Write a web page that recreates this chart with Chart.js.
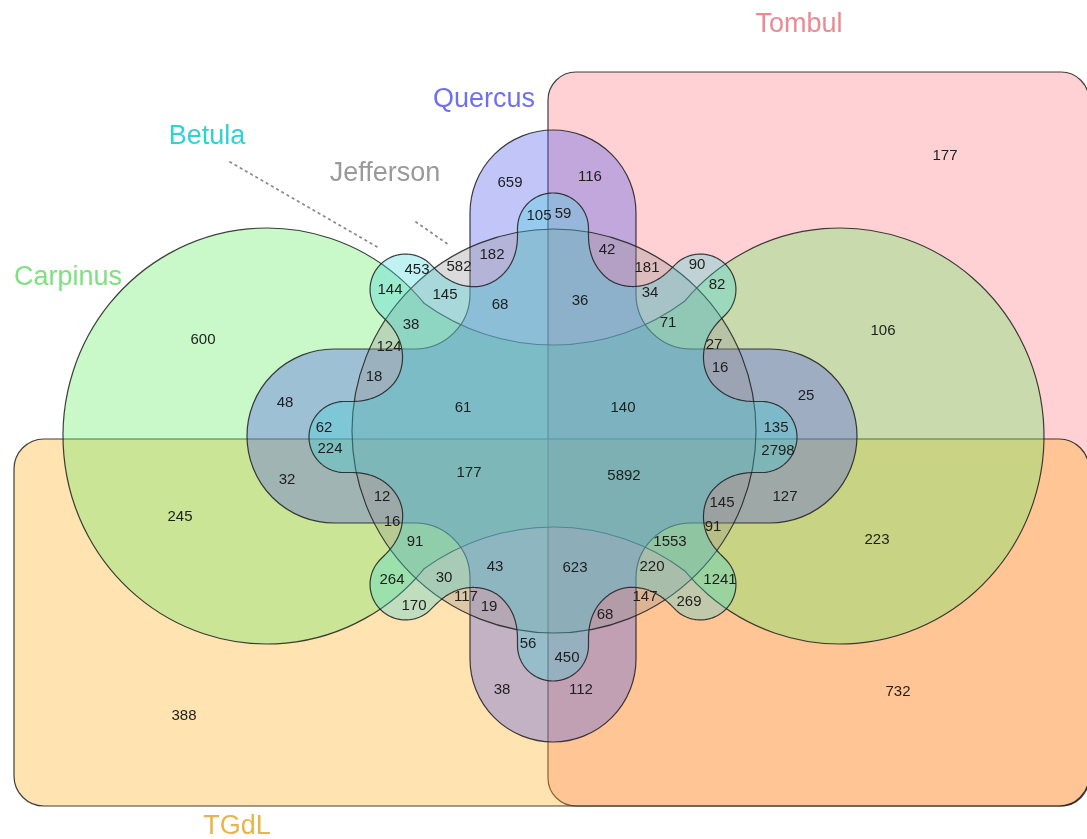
<!DOCTYPE html>
<html><head><meta charset="utf-8">
<script src="https://cdn.jsdelivr.net/npm/chart.js@4/dist/chart.umd.min.js"></script>
<style>html,body{margin:0;padding:0;background:#fff;}canvas{display:block;}</style>
</head><body>
<canvas id="c" width="1087" height="839"></canvas>
<script>
// ---------------- DATA ----------------
const setNames = ['Tombul', 'TGdL', 'Carpinus', 'Quercus', 'Jefferson', 'Betula'];
const regionCounts = [177, 659, 116, 105, 59, 182, 42, 453, 582, 181, 90, 82, 144, 145, 68, 36, 34, 71, 38, 124, 27, 16, 18,
  600, 106, 48, 25, 61, 140, 62, 224, 135, 2798, 177, 5892, 32, 127, 12, 145, 16, 91, 91, 1553, 245, 223,
  43, 623, 220, 264, 30, 1241, 117, 19, 147, 68, 170, 269, 56, 450, 38, 112, 388, 732];

// ---------------- LAYOUT (label anchors, in diagram units) ----------------
const anchorX = [945, 510, 590, 539, 563, 492, 607, 417, 459, 647, 697, 717, 390, 445, 500, 580, 650, 668, 411, 389, 714, 720, 374,
  203, 883, 285, 806, 463, 623, 324, 330, 776, 778, 469, 624, 287, 785, 382, 722, 392, 415, 713, 670, 180, 877,
  495, 575, 652, 392, 444, 720, 466, 489, 645, 605, 414, 689, 528, 567, 502, 581, 184, 898];
const anchorY = [156, 183, 177, 216, 214, 255, 250, 270, 267, 268, 265, 285, 290, 295, 305, 301, 293, 323, 325, 347, 345, 368, 377,
  340, 331, 403, 396, 408, 408, 428, 449, 428, 451, 473, 476, 480, 497, 497, 503, 522, 542, 527, 542, 517, 540,
  567, 568, 567, 580, 578, 580, 597, 607, 597, 615, 606, 602, 644, 658, 690, 690, 716, 692];
const titleX = [799, 237, 68, 484, 385, 207];
const titleY = [25, 827, 278, 100, 174, 137];
const titleColors = ['#eb8a92', '#e9b548', '#7fe07f', '#7070ee', '#9a9a9a', '#30d2d2'];
const fillColors = ['rgba(255,124,132,0.35)', 'rgba(255,175,30,0.35)', 'rgba(100,235,100,0.35)',
  'rgba(80,90,235,0.35)', 'rgba(150,145,145,0.33)', 'rgba(60,212,218,0.32)'];

// geometry of the six set outlines
const RECT_TOMBUL = {x0: 548, y0: 72, x1: 1089, y1: 806, r: 28};
const RECT_TGDL = {x0: 14, y0: 439, x1: 1089, y1: 806, r: 30};
const CARP = {lx: 267, rx: 840, cy: 436, ex: 204, ey: 208, tcx: 553, tcy: 125, tr: 220, bcy: 747, br: 220};
const QUER = {cx: 553, cy: 436, vw: 83, hh: 87, top: 130, bottom: 742, left: 247, right: 857, fil: 55};
const JEFF = {cx: 554, cy: 431, r: 202};
const BETU = {cx: 553, cy: 437, core: 163, len: 208.5, w: 35.5, k: 42};
const leaders = [[230, 162, 379, 248], [416, 222, 449, 245]];

// ---------------- helpers ----------------
function capsuleSDF(px, py, ax, ay, bx, by, r) {
  const pax = px - ax, pay = py - ay, bax = bx - ax, bay = by - ay;
  let h = (pax * bax + pay * bay) / (bax * bax + bay * bay);
  h = Math.max(0, Math.min(1, h));
  return Math.hypot(pax - bax * h, pay - bay * h) - r;
}
function smin(a, b, k) {
  const h = Math.max(k - Math.abs(a - b), 0) / k;
  return Math.min(a, b) - h * h * k * 0.25;
}
function betulaSDF(x, y) {
  const g = BETU;
  let d = Math.hypot(x - g.cx, y - g.cy) - g.core;
  for (let i = 0; i < 8; i++) {
    const a = i * Math.PI / 4;
    d = smin(d, capsuleSDF(x, y, g.cx, g.cy, g.cx + g.len * Math.cos(a), g.cy + g.len * Math.sin(a), g.w), g.k);
  }
  return d;
}
function betulaOutline() {
  const pts = [], N = 2400, g = BETU;
  for (let i = 0; i < N; i++) {
    const t = 2 * Math.PI * i / N, c = Math.cos(t), s = Math.sin(t);
    let r = 290;
    while (r > 0 && betulaSDF(g.cx + r * c, g.cy + r * s) > 0) r -= 1;
    let lo = r, hi = r + 1;
    for (let j = 0; j < 20; j++) {
      const m = (lo + hi) / 2;
      if (betulaSDF(g.cx + m * c, g.cy + m * s) > 0) hi = m; else lo = m;
    }
    pts.push([g.cx + lo * c, g.cy + lo * s]);
  }
  return pts;
}
const betulaPts = betulaOutline();

function ellVal(x, y, cx) { return ((x - cx) / CARP.ex) ** 2 + ((y - CARP.cy) / CARP.ey) ** 2; }
function findPhi(ccx, ccy, rr, from, to, ecx) {
  const N = 4000;
  for (let i = 0; i <= N; i++) {
    const p = from + (to - from) * i / N;
    if (ellVal(ccx + rr * Math.cos(p), ccy + rr * Math.sin(p), ecx) <= 1) return p;
  }
  return to;
}
function ellParam(x, y, ecx) { return Math.atan2((y - CARP.cy) / CARP.ey, (x - ecx) / CARP.ex); }

// ---------------- plugin ----------------
const vennPlugin = {
  id: 'venn',
  beforeDatasetsDraw(chart) {
    const ctx = chart.ctx, xs = chart.scales.x, ys = chart.scales.y;
    const X = v => xs.getPixelForValue(v), Y = v => ys.getPixelForValue(v);
    const S = Math.abs(X(1) - X(0)), T = Math.abs(Y(1) - Y(0));
    const stroke = () => { ctx.lineWidth = 1.2; ctx.strokeStyle = 'rgba(30,30,30,0.85)'; ctx.stroke(); };
    function rrect(o) {
      const r = o.r;
      ctx.beginPath();
      ctx.moveTo(X(o.x0 + r), Y(o.y0));
      ctx.lineTo(X(o.x1 - r), Y(o.y0));
      ctx.arc(X(o.x1 - r), Y(o.y0 + r), r * S, -Math.PI / 2, 0);
      ctx.lineTo(X(o.x1), Y(o.y1 - r));
      ctx.arc(X(o.x1 - r), Y(o.y1 - r), r * S, 0, Math.PI / 2);
      ctx.lineTo(X(o.x0 + r), Y(o.y1));
      ctx.arc(X(o.x0 + r), Y(o.y1 - r), r * S, Math.PI / 2, Math.PI);
      ctx.lineTo(X(o.x0), Y(o.y0 + r));
      ctx.arc(X(o.x0 + r), Y(o.y0 + r), r * S, Math.PI, 1.5 * Math.PI);
      ctx.closePath();
    }
    ctx.save();
    // Tombul
    rrect(RECT_TOMBUL); ctx.fillStyle = fillColors[0]; ctx.fill(); stroke();
    // TGdL
    rrect(RECT_TGDL); ctx.fillStyle = fillColors[1]; ctx.fill(); stroke();
    // Carpinus (dumbbell)
    {
      const c = CARP;
      const p1 = findPhi(c.tcx, c.tcy, c.tr, Math.PI / 2, Math.PI, c.lx);
      const p2 = findPhi(c.tcx, c.tcy, c.tr, Math.PI / 2, 0, c.rx);
      const p3 = findPhi(c.tcx, c.bcy, c.br, -Math.PI / 2, 0, c.rx);
      const p4 = findPhi(c.tcx, c.bcy, c.br, -Math.PI / 2, -Math.PI, c.lx);
      const P = (cy, r, p) => [c.tcx + r * Math.cos(p), cy + r * Math.sin(p)];
      const A = P(c.tcy, c.tr, p1), B = P(c.tcy, c.tr, p2), Cc = P(c.bcy, c.br, p3), D = P(c.bcy, c.br, p4);
      ctx.beginPath();
      ctx.moveTo(X(A[0]), Y(A[1]));
      ctx.arc(X(c.tcx), Y(c.tcy), c.tr * S, p1, p2, true);
      ctx.ellipse(X(c.rx), Y(c.cy), c.ex * S, c.ey * T, 0, ellParam(B[0], B[1], c.rx), ellParam(Cc[0], Cc[1], c.rx), false);
      ctx.arc(X(c.tcx), Y(c.bcy), c.br * S, p3, p4, true);
      ctx.ellipse(X(c.lx), Y(c.cy), c.ex * S, c.ey * T, 0, ellParam(D[0], D[1], c.lx), ellParam(A[0], A[1], c.lx), false);
      ctx.closePath();
      ctx.fillStyle = fillColors[2]; ctx.fill(); stroke();
    }
    // Quercus (cross with rounded arm ends)
    {
      const q = QUER, xl = q.cx - q.vw, xr = q.cx + q.vw, yt = q.cy - q.hh, yb = q.cy + q.hh, f = q.fil;
      const cv = q.vw, ch = q.hh;
      ctx.beginPath();
      ctx.moveTo(X(xl), Y(yt - f));
      ctx.lineTo(X(xl), Y(q.top + cv));
      ctx.ellipse(X(q.cx), Y(q.top + cv), q.vw * S, cv * T, 0, Math.PI, 2 * Math.PI, false);
      ctx.lineTo(X(xr), Y(yt - f));
      ctx.arc(X(xr + f), Y(yt - f), f * S, Math.PI, Math.PI / 2, true);
      ctx.lineTo(X(q.right - ch), Y(yt));
      ctx.ellipse(X(q.right - ch), Y(q.cy), ch * S, q.hh * T, 0, -Math.PI / 2, Math.PI / 2, false);
      ctx.lineTo(X(xr + f), Y(yb));
      ctx.arc(X(xr + f), Y(yb + f), f * S, -Math.PI / 2, Math.PI, true);
      ctx.lineTo(X(xr), Y(q.bottom - cv));
      ctx.ellipse(X(q.cx), Y(q.bottom - cv), q.vw * S, cv * T, 0, 0, Math.PI, false);
      ctx.lineTo(X(xl), Y(yb + f));
      ctx.arc(X(xl - f), Y(yb + f), f * S, 0, -Math.PI / 2, true);
      ctx.lineTo(X(q.left + ch), Y(yb));
      ctx.ellipse(X(q.left + ch), Y(q.cy), ch * S, q.hh * T, 0, Math.PI / 2, 1.5 * Math.PI, false);
      ctx.lineTo(X(xl - f), Y(yt));
      ctx.arc(X(xl - f), Y(yt - f), f * S, Math.PI / 2, 0, true);
      ctx.closePath();
      ctx.fillStyle = fillColors[3]; ctx.fill(); stroke();
    }
    // Jefferson (circle)
    ctx.beginPath();
    ctx.arc(X(JEFF.cx), Y(JEFF.cy), JEFF.r * S, 0, 2 * Math.PI);
    ctx.fillStyle = fillColors[4]; ctx.fill(); stroke();
    // Betula (flower)
    ctx.beginPath();
    betulaPts.forEach((p, i) => i ? ctx.lineTo(X(p[0]), Y(p[1])) : ctx.moveTo(X(p[0]), Y(p[1])));
    ctx.closePath();
    ctx.fillStyle = fillColors[5]; ctx.fill(); stroke();
    // dotted leaders
    ctx.setLineDash([1.6, 4.4]); ctx.lineCap = 'round'; ctx.lineWidth = 1.8; ctx.strokeStyle = '#8a8a8a';
    leaders.forEach(l => { ctx.beginPath(); ctx.moveTo(X(l[0]), Y(l[1])); ctx.lineTo(X(l[2]), Y(l[3])); ctx.stroke(); });
    ctx.restore();
  },
  afterDatasetsDraw(chart) {
    const ctx = chart.ctx, meta = chart.getDatasetMeta(0);
    const xs = chart.scales.x, ys = chart.scales.y;
    ctx.save();
    ctx.textAlign = 'center'; ctx.textBaseline = 'middle';
    ctx.fillStyle = '#1e1e1e';
    ctx.font = "15px 'Liberation Sans', Arial, sans-serif";
    meta.data.forEach((el, i) => ctx.fillText(String(regionCounts[i]), el.x, el.y));
    ctx.font = "27px 'Liberation Sans', Arial, sans-serif";
    setNames.forEach((n, i) => {
      ctx.fillStyle = titleColors[i];
      ctx.fillText(n, xs.getPixelForValue(titleX[i]), ys.getPixelForValue(titleY[i]));
    });
    ctx.restore();
  }
};

new Chart(document.getElementById('c'), {
  type: 'scatter',
  data: {
    datasets: [{
      label: 'regions',
      data: anchorX.map((x, i) => ({x: x, y: anchorY[i]})),
      pointRadius: 0, pointHoverRadius: 0
    }]
  },
  options: {
    responsive: false, animation: false, devicePixelRatio: 1,
    layout: {padding: 0},
    events: [],
    plugins: {legend: {display: false}, tooltip: {enabled: false}},
    scales: {
      x: {type: 'linear', min: 0, max: 1087, display: false},
      y: {type: 'linear', min: 0, max: 839, reverse: true, display: false}
    }
  },
  plugins: [vennPlugin]
});
</script>
</body></html>
